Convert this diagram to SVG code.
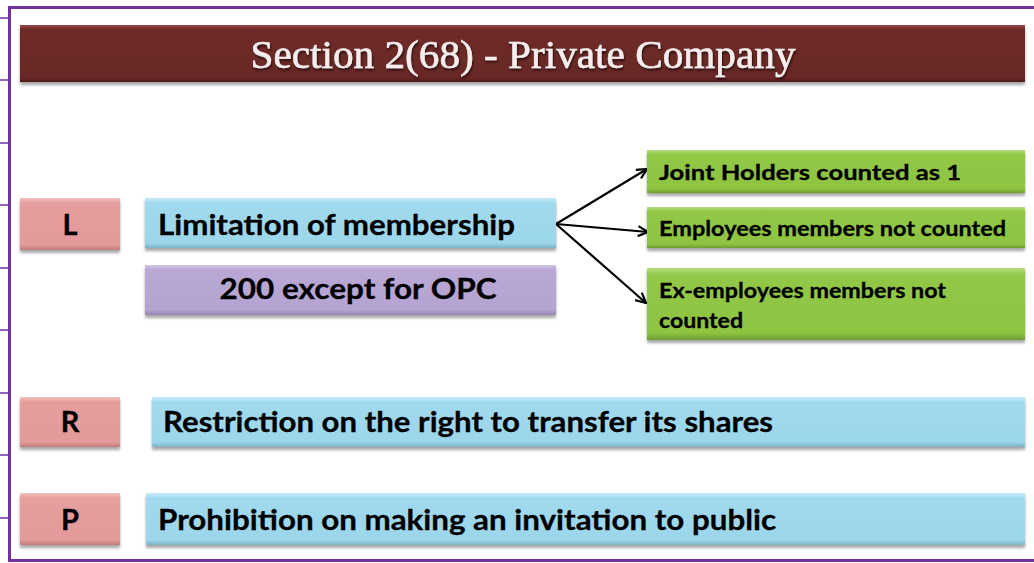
<svg xmlns="http://www.w3.org/2000/svg" width="1034" height="563" viewBox="0 0 1034 563">
  <defs>
    <style>
      .frame { stroke: #7030A0; stroke-width: 3; fill: none; }
      .tick { stroke: #7030A0; stroke-width: 1.5; }
      .lbl { font-family: Lato, "Liberation Sans", sans-serif; font-weight: bold; fill: #000; stroke: #000; stroke-width: 0.3; }
      .big { font-size: 29px; }
      .small { font-size: 21px; }
      .title { font-family: "Liberation Serif", "DejaVu Serif", serif; font-size: 41px; fill: #F6EEEE; stroke: #F6EEEE; stroke-width: 0.6; }
      .conn { stroke: #000; stroke-width: 2.2; fill: none; marker-end: url(#arr); }
    </style>
    <linearGradient id="gTitle" x1="0" y1="0" x2="0" y2="1">
      <stop offset="0" stop-color="#9A4C48"/>
      <stop offset="0.08" stop-color="#6E2B29"/>
      <stop offset="0.92" stop-color="#6A2826"/>
      <stop offset="1" stop-color="#4E1C1B"/>
    </linearGradient>
    <linearGradient id="gPink" x1="0" y1="0" x2="0" y2="1">
      <stop offset="0" stop-color="#F2BDBD"/>
      <stop offset="0.1" stop-color="#E79E9F"/>
      <stop offset="0.9" stop-color="#E4999A"/>
      <stop offset="1" stop-color="#C27B7C"/>
    </linearGradient>
    <linearGradient id="gBlue" x1="0" y1="0" x2="0" y2="1">
      <stop offset="0" stop-color="#C6EAF6"/>
      <stop offset="0.1" stop-color="#A1DAEE"/>
      <stop offset="0.9" stop-color="#9CD6EB"/>
      <stop offset="1" stop-color="#7DB3C6"/>
    </linearGradient>
    <linearGradient id="gPurple" x1="0" y1="0" x2="0" y2="1">
      <stop offset="0" stop-color="#D3C6E6"/>
      <stop offset="0.1" stop-color="#B9A7D5"/>
      <stop offset="0.9" stop-color="#B5A3D2"/>
      <stop offset="1" stop-color="#9585B0"/>
    </linearGradient>
    <linearGradient id="gGreen" x1="0" y1="0" x2="0" y2="1">
      <stop offset="0" stop-color="#B6DC7E"/>
      <stop offset="0.1" stop-color="#92C846"/>
      <stop offset="0.9" stop-color="#8EC442"/>
      <stop offset="1" stop-color="#6E9C32"/>
    </linearGradient>
    <filter id="shadow" x="-5%" y="-20%" width="110%" height="150%">
      <feGaussianBlur in="SourceAlpha" stdDeviation="1.8"/>
      <feOffset dx="0" dy="2.5" result="b"/>
      <feComponentTransfer><feFuncA type="linear" slope="0.35"/></feComponentTransfer>
      <feMerge><feMergeNode/><feMergeNode in="SourceGraphic"/></feMerge>
    </filter>
    <filter id="tshadow" x="-5%" y="-20%" width="110%" height="150%">
      <feGaussianBlur in="SourceAlpha" stdDeviation="0.8"/>
      <feOffset dx="1" dy="1.5"/>
      <feComponentTransfer><feFuncA type="linear" slope="0.6"/></feComponentTransfer>
      <feMerge><feMergeNode/><feMergeNode in="SourceGraphic"/></feMerge>
    </filter>
    <marker id="arr" viewBox="0 0 12 12" refX="11" refY="6" markerWidth="12" markerHeight="12" markerUnits="userSpaceOnUse" orient="auto">
      <path d="M1,1 L11,6 L1,11" fill="none" stroke="#000" stroke-width="2.2"/>
    </marker>
  </defs>

  <rect width="1034" height="563" fill="#FFFFFF"/>

  <!-- page frame and margin ticks -->
  <g id="frame">
    <path class="frame" d="M1034,7.5 H9.5 V560.5 H1034"/>
    <g class="tick">
      <line x1="0" y1="18" x2="9" y2="18"/>
      <line x1="0" y1="80" x2="9" y2="80"/>
      <line x1="0" y1="143" x2="9" y2="143"/>
      <line x1="0" y1="205" x2="9" y2="205"/>
      <line x1="0" y1="268" x2="9" y2="268"/>
      <line x1="0" y1="330" x2="9" y2="330"/>
      <line x1="0" y1="393" x2="9" y2="393"/>
      <line x1="0" y1="455" x2="9" y2="455"/>
      <line x1="0" y1="518" x2="9" y2="518"/>
    </g>
  </g>

  <!-- title banner -->
  <g id="title">
    <rect x="20" y="25" width="1005" height="57" fill="url(#gTitle)" filter="url(#shadow)"/>
    <text class="title" x="523" y="68" text-anchor="middle" filter="url(#tshadow)" textLength="545" lengthAdjust="spacingAndGlyphs">Section 2(68) - Private Company</text>
  </g>

  <!-- connectors -->
  <g id="connectors">
    <line class="conn" x1="556" y1="224" x2="647" y2="169"/>
    <line class="conn" x1="556" y1="224" x2="648" y2="232"/>
    <line class="conn" x1="556" y1="224" x2="646" y2="303"/>
  </g>

  <!-- letter keys -->
  <g id="key-L">
    <rect x="20" y="198" width="100" height="52" fill="url(#gPink)" filter="url(#shadow)"/>
    <text class="lbl big" x="70" y="235" text-anchor="middle">L</text>
  </g>
  <g id="key-R">
    <rect x="20" y="397" width="100" height="50" fill="url(#gPink)" filter="url(#shadow)"/>
    <text class="lbl big" x="70" y="432" text-anchor="middle">R</text>
  </g>
  <g id="key-P">
    <rect x="20" y="493" width="100" height="52" fill="url(#gPink)" filter="url(#shadow)"/>
    <text class="lbl big" x="70" y="530" text-anchor="middle">P</text>
  </g>

  <!-- main statements -->
  <g id="limitation">
    <rect x="145" y="198" width="411" height="50" fill="url(#gBlue)" filter="url(#shadow)"/>
    <text class="lbl big" x="158" y="235" textLength="357" lengthAdjust="spacingAndGlyphs">Limitation of membership</text>
  </g>
  <g id="limit-200">
    <rect x="145" y="265" width="411" height="50" fill="url(#gPurple)" filter="url(#shadow)"/>
    <text class="lbl big" x="358" y="299" text-anchor="middle" textLength="277" lengthAdjust="spacingAndGlyphs">200 except for OPC</text>
  </g>
  <g id="restriction">
    <rect x="152" y="397" width="873" height="50" fill="url(#gBlue)" filter="url(#shadow)"/>
    <text class="lbl big" x="163" y="432" textLength="610" lengthAdjust="spacingAndGlyphs">Restriction on the right to transfer its shares</text>
  </g>
  <g id="prohibition">
    <rect x="146" y="493" width="879" height="52" fill="url(#gBlue)" filter="url(#shadow)"/>
    <text class="lbl big" x="158" y="530" textLength="618" lengthAdjust="spacingAndGlyphs">Prohibition on making an invitation to public</text>
  </g>

  <!-- membership counting rules -->
  <g id="joint-holders">
    <rect x="647" y="150" width="378" height="43" fill="url(#gGreen)" filter="url(#shadow)"/>
    <text class="lbl small" x="659" y="180" textLength="302" lengthAdjust="spacingAndGlyphs">Joint Holders counted as 1</text>
  </g>
  <g id="employees">
    <rect x="647" y="207" width="378" height="41" fill="url(#gGreen)" filter="url(#shadow)"/>
    <text class="lbl small" x="659" y="236" textLength="347" lengthAdjust="spacingAndGlyphs">Employees members not counted</text>
  </g>
  <g id="ex-employees">
    <rect x="647" y="268" width="378" height="72" fill="url(#gGreen)" filter="url(#shadow)"/>
    <text class="lbl small" x="659" y="298" textLength="287" lengthAdjust="spacingAndGlyphs">Ex-employees members not</text>
    <text class="lbl small" x="659" y="328" textLength="84" lengthAdjust="spacingAndGlyphs">counted</text>
  </g>
</svg>
